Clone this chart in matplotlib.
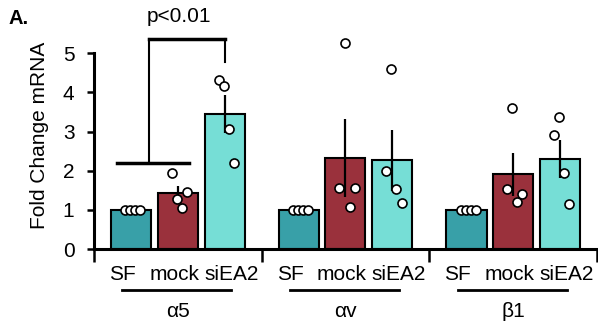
import matplotlib
matplotlib.use("Agg")
import matplotlib.pyplot as plt
import numpy as np

plt.rcParams['font.family'] = ['Liberation Sans', 'DejaVu Sans']

# data
genes = ['α5', 'αv', 'β1']
conditions = ['SF', 'mock', 'siEA2']
bar_sf = [1.0, 1.0, 1.0]
bar_mock = [1.43, 2.32, 1.91]
bar_siea2 = [3.44, 2.27, 2.30]
err_sf = [0.0, 0.0, 0.0]
err_mock = [0.18, 0.99, 0.55]
err_siea2 = [0.49, 0.78, 0.49]
# individual replicates, in left-to-right order inside each bar
pts_sf = [[1.0, 1.0, 1.0, 1.0], [1.0, 1.0, 1.0, 1.0], [1.0, 1.0, 1.0, 1.0]]
pts_mock = [[1.94, 1.28, 1.05, 1.45], [1.56, 5.25, 1.07, 1.56], [1.53, 3.60, 1.20, 1.40]]
pts_siea2 = [[4.31, 4.16, 3.06, 2.19], [2.00, 4.59, 1.53, 1.17], [2.91, 3.37, 1.93, 1.15]]
p_text = 'p<0.01'

colors = ['#38A0A8', '#9A313C', '#76DED6']
offsets = [-0.277, 0.0, 0.28]
width = 0.24
jitter = [-0.035, -0.005, 0.025, 0.055]

fig = plt.figure(figsize=(5.98, 3.26), dpi=100)
ax = fig.add_axes([0.157, 0.236, 0.841, 0.601])

x = np.arange(len(genes))
bars = [bar_sf, bar_mock, bar_siea2]
errs = [err_sf, err_mock, err_siea2]
pts = [pts_sf, pts_mock, pts_siea2]
for k in range(3):
    xs = x + offsets[k]
    ax.bar(xs, bars[k], width, color=colors[k], edgecolor='black', linewidth=1.5, zorder=2)
    for i in range(len(genes)):
        if errs[k][i] > 0:
            ax.errorbar(xs[i], bars[k][i], yerr=errs[k][i], fmt='none', ecolor='black',
                        elinewidth=1.6, capsize=0, zorder=3)
        px = xs[i] + np.array(jitter)
        ax.scatter(px, pts[k][i], s=42, facecolor='white', edgecolor='black',
                   linewidth=1.2, zorder=4, clip_on=False)

ax.set_xlim(-0.5, 2.5)
ax.set_ylim(0, 5)
ax.set_yticks([0, 1, 2, 3, 4, 5])
ax.set_xticks([-0.5, 0.5, 1.5, 2.5])
ax.set_xticklabels([])
ax.tick_params(axis='y', labelsize=15, width=1.8, length=5, colors='black', pad=9)
ax.tick_params(axis='x', width=1.8, length=9)
for s in ['top', 'right']:
    ax.spines[s].set_visible(False)
for s in ['left', 'bottom']:
    ax.spines[s].set_linewidth(2.2)
ax.set_ylabel('Fold Change mRNA', fontsize=15, labelpad=5)
ax.yaxis.set_label_coords(-0.09, 0.58)

# condition and gene labels under the axis
lab_off = [-0.33, -0.02, 0.32]
for i in range(len(genes)):
    for k in range(3):
        ax.text(x[i] + lab_off[k], -0.65, conditions[k], ha='center', va='center',
                fontsize=15, clip_on=False)
    ax.plot([x[i] - 0.33, x[i] + 0.32], [-1.05, -1.05], color='black', lw=2,
            clip_on=False)
    ax.text(x[i], -1.6, genes[i], ha='center', va='center', fontsize=15, clip_on=False)

# significance bracket
ax.plot([-0.36, 0.065], [2.2, 2.2], color='black', lw=2.5, clip_on=False)
ax.plot([-0.17, -0.17], [2.2, 5.37], color='black', lw=1.5, clip_on=False)
ax.plot([-0.17, 0.28], [5.37, 5.37], color='black', lw=2.5, clip_on=False)
ax.plot([0.28, 0.28], [5.37, 4.78], color='black', lw=1.5, clip_on=False)
ax.text(0.01, 5.93, p_text, ha='center', va='center', fontsize=15, clip_on=False)

fig.text(0.015, 0.943, 'A.', fontsize=14.5, fontweight='bold', ha='left', va='center')

fig.savefig('out.png', dpi=100)
